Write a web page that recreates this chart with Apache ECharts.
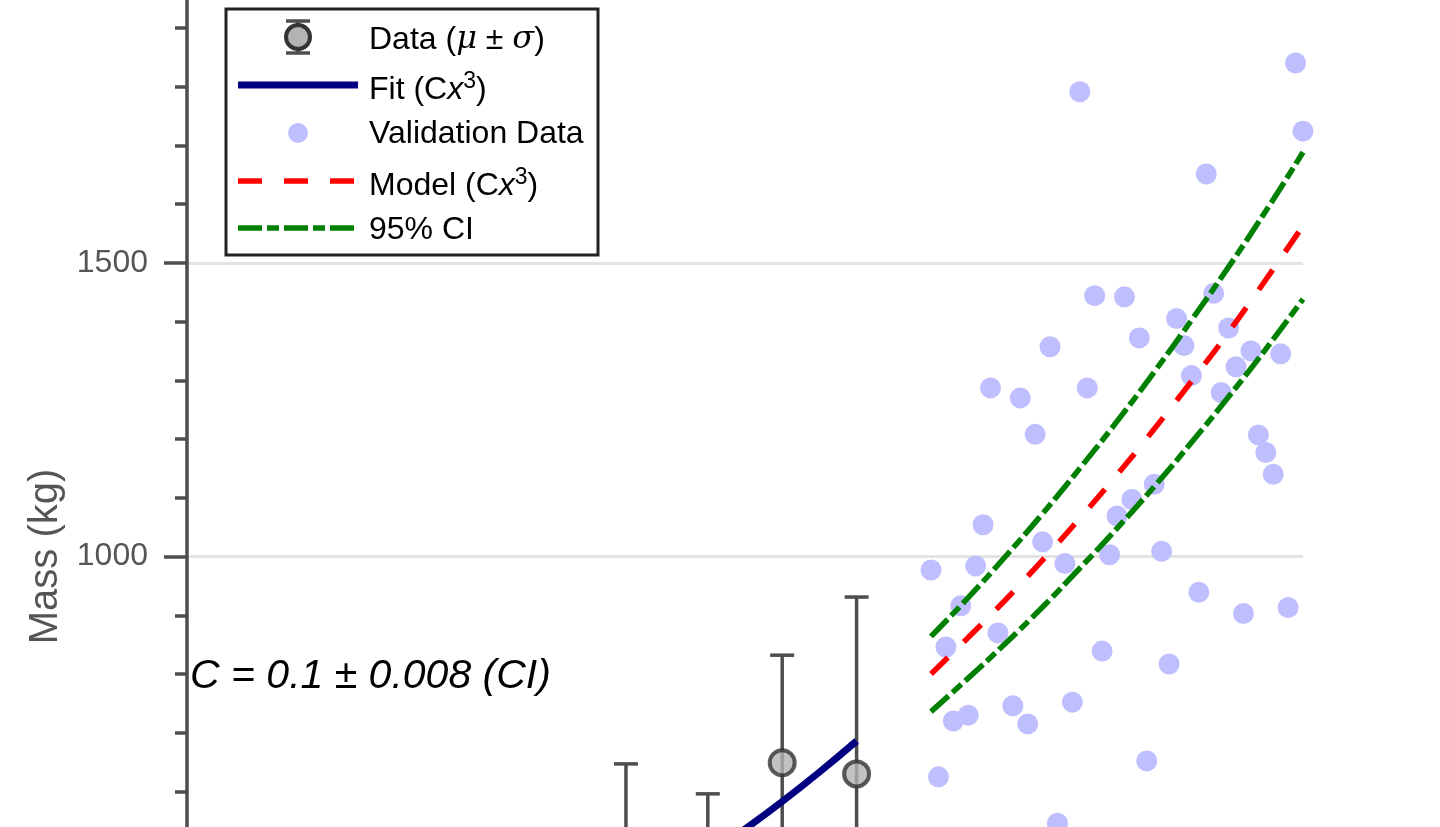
<!DOCTYPE html>
<html><head><meta charset="utf-8">
<script src="https://cdn.jsdelivr.net/npm/echarts@6/dist/echarts.min.js"></script>
<style>html,body{margin:0;padding:0;background:#fff;overflow:hidden}#c{width:1440px;height:827px}</style>
</head><body><div id="c"></div>
<script>
// ---- data ----
const dataX = [15.9, 17, 18, 19];
const dataMean = [405, 470, 649, 630];
const dataSigma = [242, 126, 183, 301];

const fitX = [15, 16, 16.5, 17, 17.5, 18, 18.5, 19];
const fitY = [338, 410, 449, 491, 536, 583, 633, 686];

const valX = [20.0, 20.1, 20.2, 20.3, 20.4, 20.5, 20.6, 20.7, 20.8, 20.9,
              21.0, 21.1, 21.2, 21.3, 21.4, 21.5, 21.6, 21.7, 21.8, 21.9,
              22.0, 22.1, 22.2, 22.3, 22.4, 22.5, 22.6, 22.7, 22.8, 22.9,
              23.0, 23.1, 23.2, 23.3, 23.4, 23.5, 23.6, 23.7, 23.8, 23.9,
              24.0, 24.1, 24.2, 24.3, 24.4, 24.5, 24.6, 24.7, 24.8, 24.9, 25.0];
const valY = [977, 625, 846, 720, 916, 730, 984, 1054, 1287, 870,
              480, 746, 1270, 715, 1208, 1025, 1357, 546, 988, 752,
              1791, 1287, 1444, 839, 1003, 1069, 1442, 1097, 1372, 652,
              1123, 1009, 817, 1405, 1359, 1308, 939, 1651, 1448, 1279,
              1389, 1323, 903, 1350, 1207, 1177, 1140, 1345, 913, 1840, 1724];

const modelX = [20, 20.5, 21, 21.5, 22, 22.5, 23, 23.5, 24, 24.5, 25];
const modelY = [800, 862, 926, 994, 1065, 1139, 1217, 1298, 1382, 1471, 1563];
const ciUpper = [864, 930, 1000, 1073, 1150, 1230, 1314, 1402, 1493, 1588, 1688];
const ciLower = [736, 793, 852, 914, 980, 1048, 1119, 1194, 1272, 1353, 1438];

const yMin = 0, yMax = 2000, yStep = 500;
const xMin = 10, xMax = 25;

const legendLabels = ['Data', 'Fit', 'Validation Data', 'Model', '95% CI'];
const annotation = 'C = 0.1 \u00b1 0.008 (CI)';
const yName = 'Mass (kg)';

// ---- chart ----
const FONT = "'Liberation Sans', Arial, Helvetica, sans-serif";
const chart = echarts.init(document.getElementById('c'), null, {renderer: 'canvas'});
const zip = (a, b) => a.map((v, i) => [v, b[i]]);

const supRich = {
  a: {fontSize: 32, fontFamily: FONT, fill: '#000'},
  i: {fontSize: 32, fontFamily: FONT, fontStyle: 'italic', fill: '#000'},
  s: {fontSize: 23, fontFamily: FONT, fill: '#000', verticalAlign: 'top', padding: [0, 0, 16, 0]}
};

const option = {
  backgroundColor: '#ffffff',
  animation: false,
  grid: {left: 187, top: -31, width: 1116, height: 1175, containLabel: false, outerBoundsMode: 'none'},
  xAxis: {type: 'value', min: xMin, max: xMax, show: false},
  yAxis: {
    type: 'value', min: yMin, max: yMax, interval: yStep,
    name: yName, nameLocation: 'middle', nameGap: 119,
    nameTextStyle: {fontSize: 40, color: '#555555', fontFamily: FONT},
    axisLine: {show: true, lineStyle: {color: '#4d4d4d', width: 3.5}},
    axisTick: {show: true, length: 23, lineStyle: {color: '#4d4d4d', width: 3.5}},
    minorTick: {show: true, splitNumber: 5, length: 12, lineStyle: {color: '#4d4d4d', width: 3.5}},
    axisLabel: {fontSize: 32, color: '#555555', margin: 39, fontFamily: FONT, formatter: v => String(v)},
    splitLine: {show: true, lineStyle: {color: '#e3e3e3', width: 3}}
  },
  series: [
    {
      name: legendLabels[2], type: 'scatter', data: zip(valX, valY),
      symbol: 'circle', symbolSize: 21,
      itemStyle: {color: '#bfbfff', opacity: 1}, z: 2, silent: true
    },
    {
      name: legendLabels[0] + ' bars', type: 'custom',
      data: dataX.map((x, i) => [x, dataMean[i] - dataSigma[i], dataMean[i] + dataSigma[i]]),
      renderItem: function (params, api) {
        const lo = api.coord([api.value(0), api.value(1)]);
        const hi = api.coord([api.value(0), api.value(2)]);
        const w = 12;
        const st = {stroke: '#4d4d4d', lineWidth: 3.5};
        return {type: 'group', children: [
          {type: 'line', shape: {x1: lo[0], y1: lo[1], x2: hi[0], y2: hi[1]}, style: st},
          {type: 'line', shape: {x1: hi[0] - w, y1: hi[1], x2: hi[0] + w, y2: hi[1]}, style: st},
          {type: 'line', shape: {x1: lo[0] - w, y1: lo[1], x2: lo[0] + w, y2: lo[1]}, style: st}
        ]};
      },
      z: 3, silent: true
    },
    {
      name: legendLabels[1], type: 'line', data: zip(fitX, fitY), smooth: true,
      showSymbol: false, lineStyle: {color: '#000080', width: 7}, z: 4, silent: true
    },
    {
      name: legendLabels[0], type: 'scatter', data: zip(dataX, dataMean),
      symbol: 'circle', symbolSize: 25,
      itemStyle: {color: '#b3b3b3', borderColor: '#333333', borderWidth: 4}, z: 5, silent: true
    },
    {
      name: legendLabels[3], type: 'line', data: zip(modelX, modelY), smooth: true,
      showSymbol: false, lineStyle: {color: '#ff0000', width: 5.5, type: [24, 22], cap: 'butt'}, z: 6, silent: true
    },
    {
      name: legendLabels[4] + ' upper', type: 'line', data: zip(modelX, ciUpper), smooth: true,
      showSymbol: false, lineStyle: {color: '#008000', width: 5.5, type: [24, 5, 12, 5], cap: 'butt'}, z: 6, silent: true
    },
    {
      name: legendLabels[4] + ' lower', type: 'line', data: zip(modelX, ciLower), smooth: true,
      showSymbol: false, lineStyle: {color: '#008000', width: 5.5, type: [24, 5, 12, 5], cap: 'butt'}, z: 6, silent: true
    }
  ],
  graphic: [
    // annotation
    {type: 'text', x: 190, y: 677, z: 20, silent: true,
     style: {text: annotation, font: 'italic 41px ' + FONT, fill: '#000000', verticalAlign: 'middle'}},
    // legend box
    {type: 'group', z: 30, silent: true, children: [
      {type: 'rect', shape: {x: 226, y: 9, width: 372, height: 246},
       style: {fill: '#ffffff', stroke: '#222222', lineWidth: 3}},
      // Data icon
      {type: 'line', shape: {x1: 298, y1: 21, x2: 298, y2: 53}, style: {stroke: '#4d4d4d', lineWidth: 3.5}},
      {type: 'line', shape: {x1: 286, y1: 21, x2: 310, y2: 21}, style: {stroke: '#4d4d4d', lineWidth: 3.5}},
      {type: 'line', shape: {x1: 286, y1: 53, x2: 310, y2: 53}, style: {stroke: '#4d4d4d', lineWidth: 3.5}},
      {type: 'circle', shape: {cx: 298, cy: 37, r: 12}, style: {fill: '#b3b3b3', stroke: '#333333', lineWidth: 4}},
      // Fit icon
      {type: 'line', shape: {x1: 238, y1: 85, x2: 358, y2: 85}, style: {stroke: '#000080', lineWidth: 7}},
      // Validation icon
      {type: 'circle', shape: {cx: 298, cy: 133, r: 10}, style: {fill: '#bfbfff'}},
      // Model icon
      {type: 'line', shape: {x1: 238, y1: 181, x2: 358, y2: 181}, style: {stroke: '#ff0000', lineWidth: 5.5, lineDash: [24, 22]}},
      // CI icon
      {type: 'line', shape: {x1: 238, y1: 228, x2: 358, y2: 228}, style: {stroke: '#008000', lineWidth: 5.5, lineDash: [24, 5, 12, 5]}},
      // texts
      {type: 'text', x: 369, y: 40, style: {
        text: '{a|' + legendLabels[0] + ' (}{m|\u03bc}{a| \u00b1 }{m|\u03c3}{a|)}',
        verticalAlign: 'middle', fill: '#000',
        rich: {a: {fontSize: 32, fontFamily: FONT, fill: '#000'}, m: {fontSize: 32, fontFamily: "'DejaVu Serif', serif", fontStyle: 'italic', fill: '#000'}}}},
      {type: 'text', x: 369, y: 90, style: {
        text: '{a|' + legendLabels[1] + ' (C}{i|x}{s|3}{a|)}',
        verticalAlign: 'middle', fill: '#000', rich: supRich}},
      {type: 'text', x: 369, y: 134, style: {
        text: legendLabels[2], verticalAlign: 'middle', font: '32px ' + FONT, fill: '#000'}},
      {type: 'text', x: 369, y: 186, style: {
        text: '{a|' + legendLabels[3] + ' (C}{i|x}{s|3}{a|)}',
        verticalAlign: 'middle', fill: '#000', rich: supRich}},
      {type: 'text', x: 369, y: 230, style: {
        text: legendLabels[4], verticalAlign: 'middle', font: '32px ' + FONT, fill: '#000'}}
    ]}
  ]
};
chart.setOption(option);
</script>
</body></html>
